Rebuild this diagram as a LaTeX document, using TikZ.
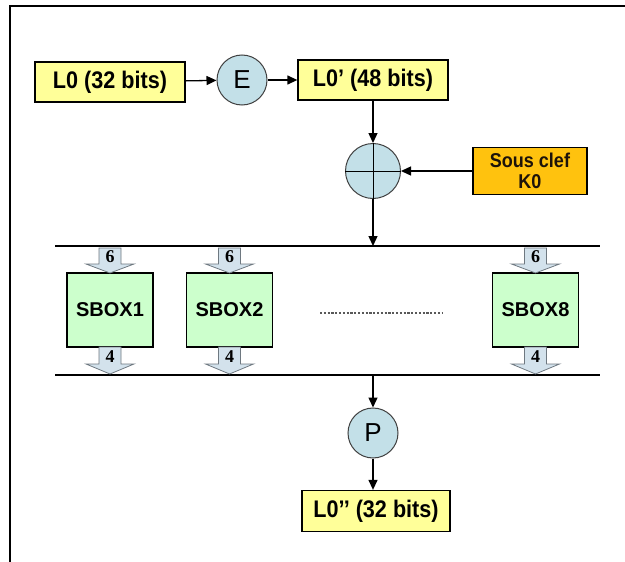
\documentclass[tikz,border=0pt]{standalone}
\usepackage{fontspec}
\setmainfont{Liberation Sans}
\newfontfamily\serifbold{Liberation Serif}
\newfontfamily\narrowsans[FakeStretch=0.9]{Liberation Sans}
\usetikzlibrary{arrows.meta}
\definecolor{yfill}{HTML}{FFFF99}
\definecolor{bfill}{HTML}{C3E0E8}
\definecolor{gfill}{HTML}{CCFFCC}
\definecolor{ofill}{HTML}{FFC20E}
\definecolor{afill}{HTML}{D3E2EC}
\definecolor{adraw}{HTML}{6E7880}
\newcommand\blockarr[5]{%
  \draw[barrow] (#1-11,#2) -- (#1+11,#2) -- (#1+11,#3) -- (#1+24,#3) -- (#1,#4) -- (#1-24,#3) -- (#1-11,#3) -- cycle;
  \node[font=\serifbold\bfseries\fontsize{18}{18}\selectfont, inner sep=0] at (#1,{(#2+#3)/2+1}) {#5};}
\begin{document}
\begin{tikzpicture}[x=1pt,y=-1pt,
  ybox/.style={draw=black, line width=1.3pt, fill=yfill, minimum width=150pt, minimum height=40pt, inner sep=0pt, font=\narrowsans\bfseries\fontsize{24}{24}\selectfont},
  circ/.style={circle, draw=black!75, line width=1pt, fill=bfill, minimum size=50pt, inner sep=0pt, font=\fontsize{26}{26}\selectfont},
  sbox/.style={draw=black, line width=1.2pt, fill=gfill, minimum width=86pt, minimum height=74pt, inner sep=0pt, font=\bfseries\fontsize{20}{24}\selectfont},
  kbox/.style={draw=black, line width=1.2pt, fill=ofill, minimum width=114pt, minimum height=47pt, inner sep=0pt, align=center, font=\narrowsans\bfseries\fontsize{20}{20}\selectfont, text=black!85!brown},
  arr/.style={-{Triangle[length=10pt,width=9pt]}, line width=1.3pt},
  bus/.style={line width=2.6pt},
  barrow/.style={fill=afill, draw=adraw, line width=0.8pt, line join=miter}]
\useasboundingbox (0,0) rectangle (625,562);
% frame
\draw[line width=2pt] (10,562) -- (10,6) -- (625,6);
% top row
\node[ybox] (l0) at (110,82) {L0 (32 bits)};
\node[circ] (e) at (242,80) {E};
\node[ybox] (l0p) at (373,80) {L0’ (48 bits)};
\draw[arr] (l0) -- (e);
\draw[arr] (e) -- (l0p);
% xor
\node[circ, minimum size=55pt] (xor) at (373,171) {};
\draw[line width=1pt] (xor.north) -- (xor.south);
\draw[line width=1pt] (xor.west) -- (xor.east);
\node[kbox] (k0) at (530,171) {Sous clef\\[1pt]K0};
\draw[arr] (l0p) -- (xor);
\draw[arr] (k0) -- (xor);
% buses
\coordinate (tbl) at (55,246);
\coordinate (tbr) at (600,246);
\coordinate (bbl) at (55,375);
\coordinate (bbr) at (600,375);
\coordinate (tb) at (373,246);
\coordinate (bb) at (373,375);
\draw[bus] (tbl) -- (tbr);
\draw[bus] (bbl) -- (bbr);
\draw[arr] (xor) -- (tb);
% sboxes
\node[sbox] (s1) at (110,310) {SBOX1};
\node[sbox] (s2) at (229.5,310) {SBOX2};
\node[sbox] (s8) at (535.5,310) {SBOX8};
\coordinate (d1) at (320,313);
\coordinate (d2) at (442,313);
\draw[line width=2pt, black!65, dash pattern=on 2.2pt off 1.6pt] (d1) -- (d2);
\blockarr{110}{248}{264}{273}{6}
\blockarr{229.5}{248}{264}{273}{6}
\blockarr{535.5}{248}{264}{273}{6}
\blockarr{110}{347}{364}{374}{4}
\blockarr{229.5}{347}{364}{374}{4}
\blockarr{535.5}{347}{364}{374}{4}
% P and output
\node[circ] (p) at (373,433) {P};
\node[ybox, minimum width=148pt, minimum height=41pt] (l0pp) at (376,511) {L0’{}’ (32 bits)};
\draw[arr] (bb) -- (p);
\draw[arr] (p) -- (p |- l0pp.north);
\end{tikzpicture}
\end{document}
